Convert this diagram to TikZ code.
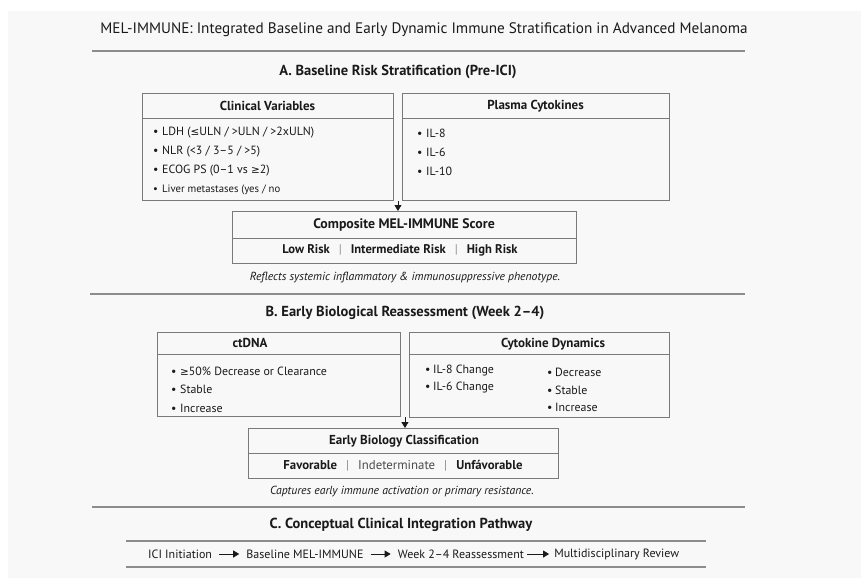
\documentclass[tikz,border=0pt]{standalone}
\usepackage{fontspec}
\setmainfont{PT Sans}
\newfontfamily\symf{DejaVu Sans}[Scale=0.88]
\usetikzlibrary{arrows.meta,positioning,calc}
\definecolor{ink}{HTML}{1A1A1A}
\definecolor{rulec}{HTML}{8C8C8C}
\definecolor{framec}{HTML}{7A7A7A}
\definecolor{panelc}{HTML}{F8F8F8}
\definecolor{softc}{HTML}{4A4A4A}
\newcommand{\bul}{\makebox[9pt][l]{•}}
\newcommand{\sepbar}{\hspace{9pt}{\color{rulec}\mdseries|}\hspace{9pt}}
\newcommand{\myleq}{{\symf ≤}}
\newcommand{\mygeq}{{\symf ≥}}
\begin{document}
\begin{tikzpicture}[x=1pt,y=-1pt, text=ink,
  font=\fontsize{11.9}{13}\selectfont,
  box/.style={draw=framec, line width=0.9pt, anchor=north west, inner sep=0pt},
  hdr/.style={font=\fontsize{13}{15}\selectfont\bfseries, inner sep=0pt},
  sechdr/.style={font=\fontsize{14.5}{16}\selectfont\bfseries, inner sep=0pt},
  item/.style={anchor=west, inner sep=0pt},
  note/.style={font=\fontsize{11.7}{13}\selectfont\itshape, inner sep=0pt},
  rulel/.style={draw=rulec, line width=1.3pt},
  tip/.style={-{Triangle[width=7pt,length=6pt]}, draw=ink, line width=0.8pt},
  ptxt/.style={anchor=west, inner sep=0pt, font=\fontsize{12}{14}\selectfont}]
\useasboundingbox (0,0) rectangle (861,578);
\fill[white] (0,0) rectangle (861,578);
\fill[panelc] (8,11) rectangle (861,578);

% title
\node[inner sep=0pt, font=\fontsize{15.2}{17}\selectfont] (title) at (424,30)
  {MEL-IMMUNE: Integrated Baseline and Early Dynamic Immune Stratification in Advanced Melanoma};
\draw[rulel] (92,51) -- (745,51);

% Section A
\node[sechdr] (secA) at (398,72) {A. Baseline Risk Stratification (Pre-ICI)};

\node[box, minimum width=251pt, minimum height=107pt] (cv) at (142,93) {};
\draw[draw=framec, line width=0.9pt] ([yshift=-25pt]cv.north west) -- ([yshift=-25pt]cv.north east);
\node[hdr] (cvh) at (267.5,106) {Clinical Variables};
\node[item] (cv1) at (153,133) {\bul LDH (\myleq ULN / >ULN / >2xULN)};
\node[item] (cv2) at (153,152) {\bul NLR (<3 / 3–5 / >5)};
\node[item] (cv3) at (153,171) {\bul ECOG PS (0–1 vs \mygeq 2)};
\node[item, font=\fontsize{10.7}{12}\selectfont] (cv4) at (153,190) {\bul Liver metastases (yes / no};

\node[box, minimum width=267pt, minimum height=107pt] (pc) at (402,93) {};
\draw[draw=framec, line width=0.9pt] ([yshift=-25pt]pc.north west) -- ([yshift=-25pt]pc.north east);
\node[hdr] (pch) at (535.5,106) {Plasma Cytokines};
\node[item] (pc1) at (417,133) {\bul IL-8};
\node[item] (pc2) at (417,152) {\bul IL-6};
\node[item] (pc3) at (417,171) {\bul IL-10};

\node[box, minimum width=344pt, minimum height=52pt] (comp) at (232,211) {};
\draw[draw=framec, line width=0.9pt] ([yshift=-27pt]comp.north west) -- ([yshift=-27pt]comp.north east);
\node[hdr, font=\fontsize{13.8}{15}\selectfont\bfseries] (comph) at (404,225) {Composite MEL-IMMUNE Score};
\node[hdr, font=\fontsize{12.6}{14}\selectfont\bfseries] (compr) at (400,250) {Low Risk\sepbar Intermediate Risk\sepbar High Risk};
\coordinate (a1) at ($(cv.south east)!0.5!(pc.south west)$);
\draw[tip] (a1) -- (a1 |- comp.north);
\node[note] (noteA) at (405,278) {Reflects systemic inflammatory \& immunosuppressive phenotype.};
\draw[rulel] (90,294) -- (745,294);

% Section B
\node[sechdr] (secB) at (405,313) {B. Early Biological Reassessment (Week 2–4)};

\node[box, minimum width=243pt, minimum height=84pt] (ct) at (157,332) {};
\draw[draw=framec, line width=0.9pt] ([yshift=-22pt]ct.north west) -- ([yshift=-22pt]ct.north east);
\node[hdr] (cth) at (250,343) {ctDNA};
\node[item] (ct1) at (171,371) {\bul \mygeq 50\% Decrease or Clearance};
\node[item] (ct2) at (171,389) {\bul Stable};
\node[item] (ct3) at (171,408) {\bul Increase};

\node[box, minimum width=260pt, minimum height=85pt] (cd) at (409,332) {};
\draw[draw=framec, line width=0.9pt] ([yshift=-22pt]cd.north west) -- ([yshift=-22pt]cd.north east);
\node[hdr] (cdh) at (553,344) {Cytokine Dynamics};
\node[item] (cd1) at (425,371) {\makebox[8pt][l]{•}IL-8 Change};
\node[item] (cd2) at (425,388) {\makebox[8pt][l]{•}IL-6 Change};
\node[item] (cd3) at (547,372) {\makebox[8pt][l]{•}Decrease};
\node[item] (cd4) at (547,390) {\makebox[8pt][l]{•}Stable};
\node[item] (cd5) at (547,407) {\makebox[8pt][l]{•}Increase};

\node[box, minimum width=310pt, minimum height=50pt] (ebc) at (248,428) {};
\draw[draw=framec, line width=0.9pt] ([yshift=-25pt]ebc.north west) -- ([yshift=-25pt]ebc.north east);
\node[hdr] (ebch) at (404,441) {Early Biology Classification};
\node[inner sep=0pt, font=\fontsize{12.8}{14}\selectfont] (ebcr) at (403,466) {\textbf{Favorable}\sepbar{\color{softc}Indeterminate}\sepbar\textbf{Unfávorable}};
\coordinate (a2) at ($(ct.south east)!0.5!(cd.south west)$);
\draw[tip] (a2) -- (a2 |- ebc.north);
\node[note] (noteB) at (402,492) {Captures early immune activation or primary resistance.};
\draw[rulel] (92,507) -- (745,507);

% Section C
\node[sechdr] (secC) at (401,525) {C. Conceptual Clinical Integration Pathway};
\draw[rulel] (126,541) -- (706,541);
\draw[rulel] (126,567) -- (706,567);
\node[ptxt] (p1) at (148,554) {ICI Initiation};
\node[ptxt, right=34pt of p1] (p2) {Baseline MEL-IMMUNE};
\node[ptxt, right=34pt of p2] (p3) {Week 2–4 Reassessment};
\node[ptxt, right=30pt of p3] (p4) {Multidisciplinary Review};
\draw[tip, shorten <=7pt, shorten >=7pt] (p1) -- (p2);
\draw[tip, shorten <=7pt, shorten >=7pt] (p2) -- (p3);
\draw[tip, shorten <=3pt, shorten >=5pt] (p3) -- (p4);
\end{tikzpicture}
\end{document}
